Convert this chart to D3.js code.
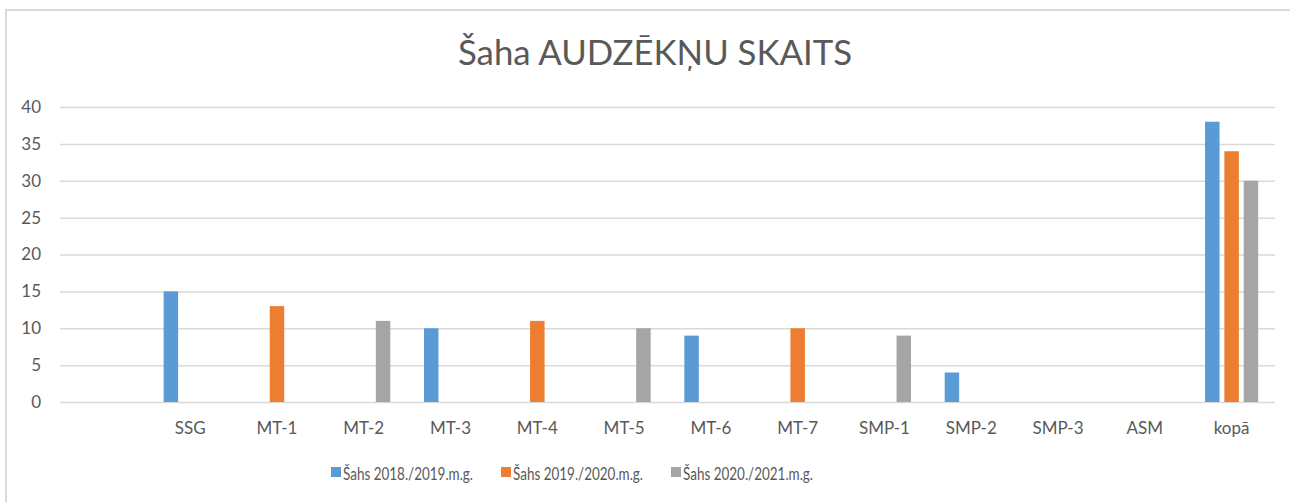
<!DOCTYPE html>
<html>
<head>
<meta charset="utf-8">
<script src="https://cdn.jsdelivr.net/npm/d3@7"></script>
<style>
  html, body { margin: 0; padding: 0; background: #fff; }
  svg { display: block; font-family: Lato, "Open Sans", sans-serif; }
</style>
</head>
<body>
<svg id="chart" width="1290" height="502"></svg>
<script>
const title = "Šaha AUDZĒKŅU SKAITS";
const categories = ["", "SSG", "MT-1", "MT-2", "MT-3", "MT-4", "MT-5", "MT-6", "MT-7", "SMP-1", "SMP-2", "SMP-3", "ASM", "kopā"];
const seriesNames = ["Šahs 2018./2019.m.g.", "Šahs 2019./2020.m.g.", "Šahs 2020./2021.m.g."];
const s2018 = [0, 15, 0, 0, 10, 0, 0, 9, 0, 0, 4, 0, 0, 38];
const s2019 = [0, 0, 13, 0, 0, 11, 0, 0, 10, 0, 0, 0, 0, 34];
const s2020 = [0, 0, 0, 11, 0, 0, 10, 0, 0, 9, 0, 0, 0, 30];
const yTicks = [0, 5, 10, 15, 20, 25, 30, 35, 40];
const colors = ["#5B9BD5", "#ED7D31", "#A5A5A5"];

const seriesValues = [s2018, s2019, s2020];
const svg = d3.select("#chart");
const W = 1290, H = 502;
const plotL = 60, plotR = 1275, plotT = 107, plotB = 402;
const textColor = "#595959";
const gridColor = "#d9d9d9";
const font = "Lato, 'Open Sans', sans-serif";

svg.append("rect").attr("width", W).attr("height", H).attr("fill", "#fff");
svg.append("rect").attr("x", 6).attr("y", 10).attr("width", W + 20).attr("height", H + 20)
  .attr("fill", "none").attr("stroke", gridColor).attr("stroke-width", 2);

svg.append("text").attr("x", 655).attr("y", 65).attr("text-anchor", "middle")
  .attr("font-size", 34).attr("font-weight", 400).attr("fill", textColor)
  .attr("textLength", 394).attr("lengthAdjust", "spacingAndGlyphs").text(title);

const x0 = d3.scaleBand().domain(categories.map((c, i) => i)).range([plotL, plotR]).padding(0);
const groupFrac = 0.612;
const x1 = d3.scaleBand().domain(seriesNames).range([0, x0.bandwidth() * groupFrac]).paddingInner(0.25);
const groupOffset = x0.bandwidth() * (1 - groupFrac) / 2;
const y = d3.scaleLinear().domain([0, 40]).range([plotB, plotT]);

// gridlines + y labels via axis
const yAxis = d3.axisLeft(y).tickValues(yTicks).tickSize(-(plotR - plotL)).tickPadding(19);
const gy = svg.append("g").attr("transform", `translate(${plotL},0)`).call(yAxis);
gy.select(".domain").remove();
gy.selectAll(".tick line").attr("stroke", gridColor).attr("stroke-width", 1.5);
gy.selectAll(".tick text").attr("fill", textColor).attr("font-size", 17).attr("font-family", font);

// bars
const rows = categories.map((c, i) => ({ i, vals: seriesNames.map((s, k) => ({ s, k, v: seriesValues[k][i] })) }));
const g = svg.append("g");
g.selectAll("g.cat").data(rows).join("g").attr("class", "cat")
  .attr("transform", d => `translate(${x0(d.i) + groupOffset},0)`)
  .selectAll("rect").data(d => d.vals.filter(v => v.v > 0)).join("rect")
  .attr("x", d => x1(d.s)).attr("width", x1.bandwidth())
  .attr("y", d => y(d.v)).attr("height", d => y(0) - y(d.v))
  .attr("fill", d => colors[d.k]);

// x axis labels
const xAxis = d3.axisBottom(x0).tickFormat(i => categories[i]).tickSize(0).tickPadding(20);
const gx = svg.append("g").attr("transform", `translate(0,${plotB})`).call(xAxis);
gx.select(".domain").remove();
gx.selectAll(".tick text").attr("fill", textColor).attr("font-size", 17).attr("font-family", font);

// legend
const legendX = [331, 501, 671];
const lg = svg.append("g").selectAll("g").data(seriesNames).join("g")
  .attr("transform", (d, k) => `translate(${legendX[k]},467)`);
lg.append("rect").attr("width", 10).attr("height", 10).attr("fill", (d, k) => colors[k]);
lg.append("text").attr("x", 12).attr("y", 12.5).attr("font-size", 17.5)
  .attr("textLength", 130).attr("lengthAdjust", "spacingAndGlyphs")
  .attr("fill", textColor).text(d => d);
</script>
</body>
</html>
